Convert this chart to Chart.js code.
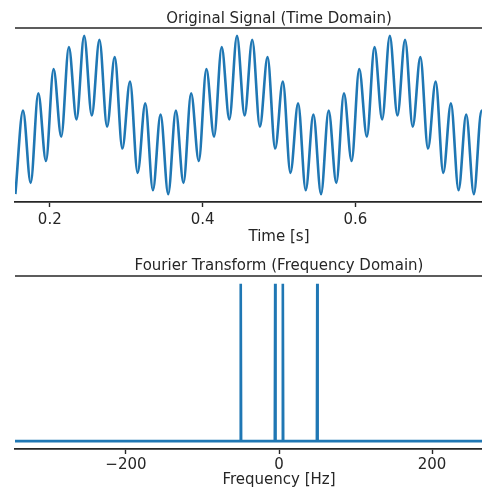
<!DOCTYPE html>
<html>
<head>
<meta charset="utf-8">
<script src="https://cdn.jsdelivr.net/npm/chart.js@4.4.0/dist/chart.umd.min.js"></script>
<style>
  html, body { margin: 0; padding: 0; background: #ffffff; overflow: hidden; }
  #wrap { position: relative; width: 482px; height: 492px; overflow: hidden; }
  canvas { position: absolute; left: 0; }
</style>
</head>
<body>
<div id="wrap">
  <canvas id="timeChart" width="560" height="250" style="top:0px"></canvas>
  <canvas id="freqChart" width="560" height="242" style="top:250px"></canvas>
</div>
<script>
// peaks and troughs of the signal
var timeValues = [
    0.155, 0.165, 0.175, 0.185, 0.195, 0.205, 0.215, 0.225, 0.235, 0.245,
    0.255, 0.265, 0.275, 0.285, 0.295, 0.305, 0.315, 0.325, 0.335, 0.345,
    0.355, 0.365, 0.375, 0.385, 0.395, 0.405, 0.415, 0.425, 0.435, 0.445,
    0.455, 0.465, 0.475, 0.485, 0.495, 0.505, 0.515, 0.525, 0.535, 0.545,
    0.555, 0.565, 0.575, 0.585, 0.595, 0.605, 0.615, 0.625, 0.635, 0.645,
    0.655, 0.665, 0.675, 0.685, 0.695, 0.705, 0.715, 0.725, 0.735, 0.745,
    0.755, 0.765, 0.775, 0.785, 0.795, 0.805, 0.815, 0.825, 0.835, 0.845
];
var signalValues = [
    -1.988, 0.109, -1.707, 0.546, -1.156, 1.156, -0.546, 1.707, -0.109, 1.988,
    -0.012, 1.891, -0.293, 1.454, -0.844, 0.844, -1.454, 0.293, -1.891, 0.012,
    -1.988, 0.109, -1.707, 0.546, -1.156, 1.156, -0.546, 1.707, -0.109, 1.988,
    -0.012, 1.891, -0.293, 1.454, -0.844, 0.844, -1.454, 0.293, -1.891, 0.012,
    -1.988, 0.109, -1.707, 0.546, -1.156, 1.156, -0.546, 1.707, -0.109, 1.988,
    -0.012, 1.891, -0.293, 1.454, -0.844, 0.844, -1.454, 0.293, -1.891, 0.012,
    -1.988, 0.109, -1.707, 0.546, -1.156, 1.156, -0.546, 1.707, -0.109, 1.988
];

var freqValues = [-345, -50.5, -50, -49.5, -5.5, -5, -4.5, 4.5, 5, 5.5, 49.5, 50, 50.5, 345];
var magnitudeValues = [0, 0, 1, 0, 0, 1, 0, 0, 1, 0, 0, 1, 0, 0];

var timeTicks = [0.2, 0.4, 0.6, 0.8];
var freqTicks = [-200, 0, 200];

var textColor = '#262626';
var lineColor = '#1f77b4';
var fontFamily = '"DejaVu Sans", "Liberation Sans", sans-serif';
var fontSize = 15;

function toPoints(xs, ys) {
    var pts = [];
    for (var i = 0; i < xs.length; i++) {
        pts.push({x: xs[i], y: ys[i]});
    }
    return pts;
}

// title above the plot plus the top spine line
var framePlugin = {
    id: 'frame',
    afterDraw: function(chart, args, opts) {
        var ctx = chart.ctx;
        var area = chart.chartArea;
        ctx.save();
        ctx.strokeStyle = textColor;
        ctx.lineWidth = 1.6;
        ctx.beginPath();
        ctx.moveTo(area.left, area.top);
        ctx.lineTo(area.right, area.top);
        ctx.stroke();
        ctx.fillStyle = textColor;
        ctx.font = fontSize + 'px ' + fontFamily;
        ctx.textAlign = 'center';
        ctx.textBaseline = 'middle';
        ctx.fillText(opts.text, (area.left + area.right) / 2, opts.y);
        ctx.restore();
    }
};

function makeChart(canvasId, points, cfg) {
    return new Chart(document.getElementById(canvasId), {
        type: 'line',
        data: {
            datasets: [{
                data: points,
                borderColor: lineColor,
                borderWidth: 2.6,
                pointRadius: 0,
                fill: false,
                cubicInterpolationMode: cfg.monotone ? 'monotone' : 'default',
                tension: 0
            }]
        },
        options: {
            responsive: false,
            animation: false,
            devicePixelRatio: 1,
            layout: {padding: {left: 15, right: 17, top: cfg.top, bottom: 0}},
            plugins: {
                legend: {display: false},
                tooltip: {enabled: false},
                frame: {text: cfg.title, y: cfg.titleY}
            },
            scales: {
                x: {
                    type: 'linear',
                    min: cfg.xMin,
                    max: cfg.xMax,
                    afterFit: function(scale) { scale.height = cfg.axisHeight; },
                    afterBuildTicks: function(scale) {
                        scale.ticks = cfg.ticks.map(function(v) { return {value: v}; });
                    },
                    ticks: {
                        color: textColor,
                        font: {family: fontFamily, size: fontSize},
                        padding: cfg.tickPad,
                        maxRotation: 0,
                        autoSkip: false,
                        callback: function(v) {
                            return String(v).replace('-', '\u2212');
                        }
                    },
                    grid: {drawOnChartArea: false, drawTicks: true, tickLength: 5, tickWidth: 1.4, tickColor: textColor},
                    border: {display: true, color: textColor, width: 1.8},
                    title: {
                        display: true,
                        text: cfg.xLabel,
                        color: textColor,
                        font: {family: fontFamily, size: fontSize},
                        padding: {top: 0, bottom: cfg.labelPad}
                    }
                },
                y: {
                    display: false,
                    min: cfg.yMin,
                    max: cfg.yMax
                }
            }
        },
        plugins: [framePlugin]
    });
}

makeChart('timeChart', toPoints(timeValues, signalValues), {
    monotone: true,
    top: 28,
    title: 'Original Signal (Time Domain)',
    titleY: 19,
    xMin: 0.1545,
    xMax: 0.8455,
    yMin: -2.187,
    yMax: 2.187,
    ticks: timeTicks,
    xLabel: 'Time [s]',
    axisHeight: 48,
    tickPad: 4,
    labelPad: 4
});

makeChart('freqChart', toPoints(freqValues, magnitudeValues), {
    monotone: false,
    top: 26,
    title: 'Fourier Transform (Frequency Domain)',
    titleY: 16,
    xMin: -345,
    xMax: 345,
    yMin: -0.05,
    yMax: 1.05,
    ticks: freqTicks,
    xLabel: 'Frequency [Hz]',
    axisHeight: 43,
    tickPad: 2,
    labelPad: 3
});
</script>
</body>
</html>
